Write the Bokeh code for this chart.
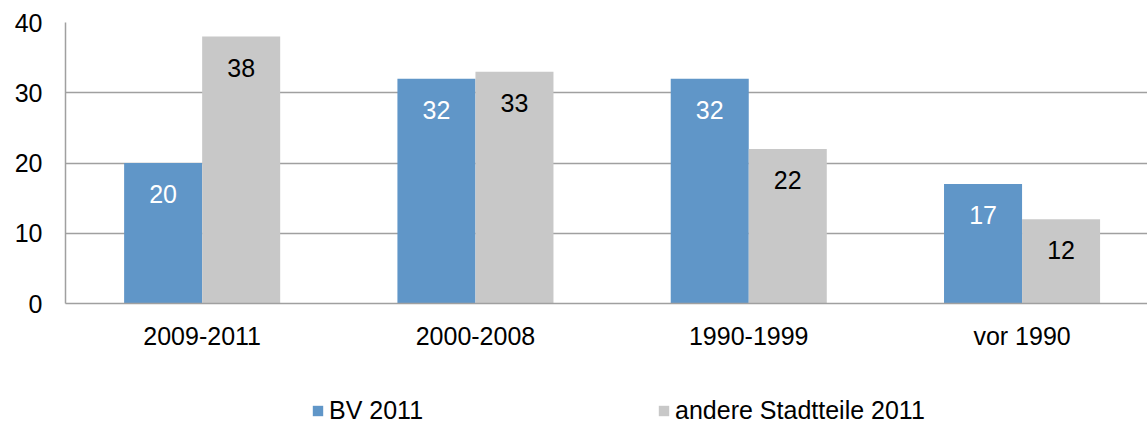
from bokeh.plotting import figure
from bokeh.layouts import column
from bokeh.models import (Range1d, FixedTicker, ColumnDataSource, LabelSet,
                          Legend, LegendItem)
from bokeh.core.properties import value
from bokeh.embed import file_html
from bokeh.resources import INLINE

# ---- data ----
categories = ["2009-2011", "2000-2008", "1990-1999", "vor 1990"]
bv_2011 = [20, 32, 32, 17]
andere_2011 = [38, 33, 22, 12]
series_names = ["BV 2011", "andere Stadtteile 2011"]
y_ticks = [0, 10, 20, 30, 40]

# ---- style ----
FONT = "Liberation Sans"
FS = "25px"
BLUE = "#6096C8"
GREY = "#C8C8C8"
LINE = "#A0A0A0"

idx = list(range(len(categories)))
bw = 0.2855
off = bw / 2

src_bv = ColumnDataSource(dict(x=[i - off for i in idx], top=bv_2011,
                               label=[str(v) for v in bv_2011]))
src_an = ColumnDataSource(dict(x=[i + off for i in idx], top=andere_2011,
                               label=[str(v) for v in andere_2011]))

p = figure(width=1147, height=380, output_backend="svg", toolbar_location=None,
           x_range=Range1d(-0.5, 3.459), y_range=Range1d(0, 40), min_border=0)
p.min_border_left = 65
p.min_border_top = 22
p.min_border_right = 0
p.min_border_bottom = 77
p.outline_line_color = None
p.background_fill_color = "white"
p.border_fill_color = "white"

r_bv = p.vbar(x="x", top="top", width=bw, source=src_bv, fill_color=BLUE,
              line_color=None)
r_an = p.vbar(x="x", top="top", width=bw, source=src_an, fill_color=GREY,
              line_color=None)

p.add_layout(LabelSet(x="x", y="top", text="label", source=src_bv, y_offset=-31,
                      text_align="center", text_baseline="middle",
                      text_font=value(FONT), text_font_size=value(FS),
                      text_color="white"))
p.add_layout(LabelSet(x="x", y="top", text="label", source=src_an, y_offset=-31,
                      text_align="center", text_baseline="middle",
                      text_font=value(FONT), text_font_size=value(FS),
                      text_color="black"))

# axes
xa = p.xaxis[0]
xa.ticker = FixedTicker(ticks=idx, minor_ticks=[])
xa.major_label_overrides = {i: c for i, c in zip(idx, categories)}
xa.major_tick_line_color = None
xa.minor_tick_line_color = None
xa.major_tick_out = 0
xa.major_label_standoff = 18
xa.axis_line_color = LINE
xa.axis_line_width = 1.5
xa.major_label_text_font = FONT
xa.major_label_text_font_size = FS
xa.major_label_text_color = "black"

ya = p.yaxis[0]
ya.ticker = FixedTicker(ticks=y_ticks, minor_ticks=[])
ya.major_tick_line_color = None
ya.minor_tick_line_color = None
ya.major_tick_out = 0
ya.major_label_standoff = 23
ya.axis_line_color = LINE
ya.axis_line_width = 1.5
ya.major_label_text_font = FONT
ya.major_label_text_font_size = FS
ya.major_label_text_color = "black"

p.xgrid.visible = False
p.ygrid.ticker = FixedTicker(ticks=y_ticks)
p.ygrid.grid_line_color = LINE
p.ygrid.grid_line_width = 1.5

# ---- legend strip (separate figure holding legend swatches) ----
p2 = figure(width=1147, height=45, output_backend="svg", toolbar_location=None,
            x_range=Range1d(0, 1), y_range=Range1d(0, 1), min_border=0,
            x_axis_location=None, y_axis_location=None)
p2.outline_line_color = None
p2.grid.visible = False
p2.background_fill_color = "white"
p2.border_fill_color = "white"
# swatch renderers, placed outside the visible strip range
l_bv = p2.vbar(x=[-5], top=[0], width=0.01, fill_color=BLUE, line_color=None)
l_an = p2.vbar(x=[-5], top=[0], width=0.01, fill_color=GREY, line_color=None)

legend = Legend(items=[LegendItem(label=series_names[0], renderers=[l_bv]),
                       LegendItem(label=series_names[1], renderers=[l_an])],
                orientation="horizontal", location=(246, 0),
                glyph_width=13, glyph_height=13, label_standoff=5,
                spacing=234, padding=0, margin=0,
                label_text_font=FONT, label_text_font_size=FS,
                label_text_color="black", background_fill_alpha=0,
                border_line_color=None)
p2.add_layout(legend, "center")

layout = column(p, p2, spacing=0)
open("out.html", "w").write(file_html(layout, INLINE))
